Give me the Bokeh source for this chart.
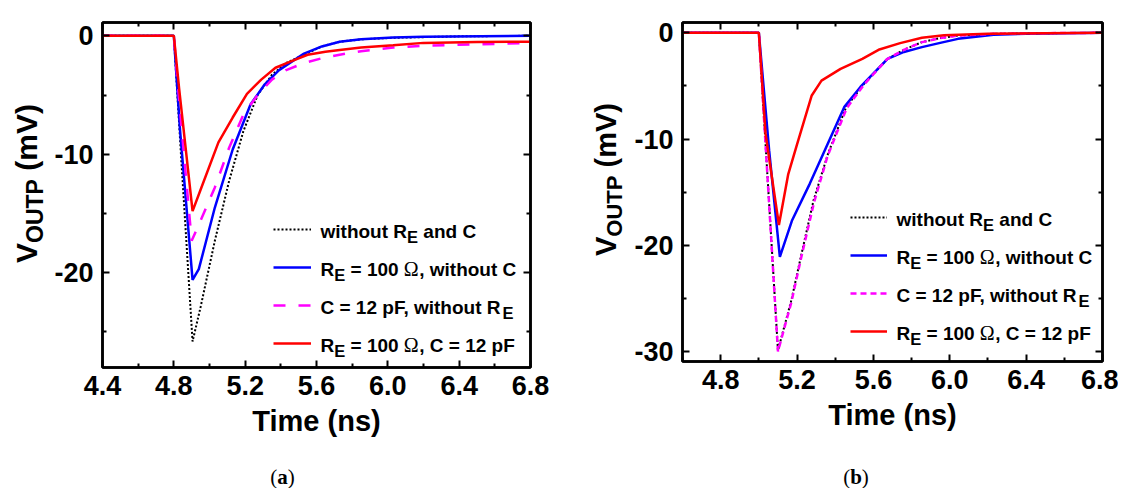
from bokeh.plotting import figure
from bokeh.layouts import row, column
from bokeh.models import (FixedTicker, PrintfTickFormatter, CustomJSTickFormatter,
                          LinearAxis, Label, Legend, LegendItem, Div)
from bokeh.embed import file_html
from bokeh.resources import INLINE

# ---------------- data, panel (a) ----------------
a_t_black = [4.40, 4.80, 4.84, 4.905, 4.95, 5.03, 5.11, 5.19, 5.27, 5.35, 5.43, 5.53, 5.63, 5.73, 5.85, 6.03, 6.40, 6.80]
a_v_black = [0, 0, -10.0, -25.8, -22.9, -17.3, -12.25, -8.05, -5.0, -3.3, -2.3, -1.6, -0.9, -0.5, -0.3, -0.17, -0.05, 0]

a_t_blue = [4.40, 4.80, 4.835, 4.905, 4.94, 5.03, 5.13, 5.23, 5.31, 5.39, 5.53, 5.63, 5.73, 5.85, 6.03, 6.20, 6.80]
a_v_blue = [0, 0, -8.0, -20.6, -19.7, -14.5, -9.6, -5.8, -4.1, -2.9, -1.5, -0.9, -0.5, -0.3, -0.15, -0.08, 0]

a_t_mag = [4.40, 4.80, 4.83, 4.90, 4.95, 5.03, 5.11, 5.19, 5.27, 5.35, 5.43, 5.53, 5.63, 5.73, 5.85, 6.03, 6.20, 6.50, 6.80]
a_v_mag = [0, 0, -5.5, -17.3, -15.6, -12.8, -9.45, -6.65, -5.0, -3.7, -2.9, -2.3, -1.9, -1.6, -1.3, -1.0, -0.85, -0.72, -0.62]

a_t_red = [4.40, 4.80, 4.83, 4.905, 4.95, 5.05, 5.13, 5.21, 5.29, 5.37, 5.45, 5.55, 5.65, 5.73, 5.85, 6.03, 6.20, 6.50, 6.80]
a_v_red = [0, 0, -4.5, -14.8, -13.0, -9.0, -6.9, -4.9, -3.7, -2.7, -2.2, -1.6, -1.35, -1.2, -1.0, -0.8, -0.6, -0.53, -0.5]

# ---------------- data, panel (b) ----------------
b_t_black = [4.60, 5.00, 5.10, 5.17, 5.22, 5.286, 5.362, 5.457, 5.551, 5.674, 5.76, 5.854, 5.95, 6.043, 6.23, 6.40, 6.80]
b_v_black = [0, 0, -29.9, -25.2, -21.1, -15.8, -11.4, -7.0, -4.8, -2.45, -1.6, -0.88, -0.5, -0.25, -0.1, -0.05, 0]

b_t_blue = [4.60, 5.00, 5.054, 5.11, 5.173, 5.267, 5.352, 5.447, 5.532, 5.674, 5.76, 5.854, 5.95, 6.043, 6.23, 6.40, 6.80]
b_v_blue = [0, 0, -11.1, -21.1, -17.7, -14.2, -10.8, -7.0, -5.1, -2.45, -1.8, -1.35, -0.95, -0.57, -0.19, -0.08, 0]

b_t_mag = [4.60, 5.00, 5.10, 5.17, 5.22, 5.29, 5.36, 5.46, 5.55, 5.67, 5.76, 5.85, 5.95, 6.04, 6.23, 6.40, 6.80]
b_v_mag = [0, 0, -30.0, -25.4, -21.3, -15.9, -11.6, -7.1, -4.9, -2.5, -1.6, -0.9, -0.5, -0.27, -0.1, -0.05, 0]

b_t_red = [4.60, 5.00, 5.035, 5.105, 5.154, 5.20, 5.277, 5.328, 5.428, 5.542, 5.627, 5.74, 5.854, 5.97, 6.20, 6.80]
b_v_red = [0, 0, -9.5, -18.1, -13.3, -10.5, -5.9, -4.5, -3.4, -2.45, -1.6, -0.97, -0.47, -0.22, -0.08, 0]

# ---------------- ticks ----------------
a_xticks = [4.4, 4.8, 5.2, 5.6, 6.0, 6.4, 6.8]
a_xminor = [4.6, 5.0, 5.4, 5.8, 6.2, 6.6]
a_yticks = [0, -10, -20]
a_yminor = [-5, -15, -25]
b_xticks = [4.8, 5.2, 5.6, 6.0, 6.4, 6.8]
b_xminor = [4.6, 5.0, 5.4, 5.8, 6.2, 6.6]
b_yticks = [0, -10, -20, -30]
b_yminor = [-5, -15, -25]

x_title = "Time (ns)"
y_title = ("V", "OUTP", " (mV)")
legend_rows = [
    [("without R", "m"), ("E", "s"), (" and C", "m")],
    [("R", "m"), ("E", "s"), (" = 100 ", "m"), ("\u03a9", "o"), (", without C", "m")],
    [("C = 12 pF, without R", "m"), ("E", "s")],
    [("R", "m"), ("E", "s"), (" = 100 ", "m"), ("\u03a9", "o"), (", C = 12 pF", "m")],
]
captions = ["a", "b"]

SANS = "Liberation Sans"
SERIF = "Liberation Serif"

W_SANS_B = {' ': 278, ',': 278, '=': 584, '(': 333, ')': 333, '-': 333, '.': 278,
            'C': 722, 'E': 667, 'F': 611, 'O': 778, 'P': 667, 'R': 722, 'T': 611, 'U': 722, 'V': 667,
            'a': 556, 'd': 611, 'h': 611, 'i': 278, 'm': 889, 'n': 611, 'o': 611, 'p': 611,
            's': 556, 't': 333, 'u': 611, 'w': 778}
for _d in "0123456789":
    W_SANS_B[_d] = 556
W_SERIF = {' ': 250, '(': 333, ')': 333, '\u03a9': 768}


def tw(s, table, size):
    return sum(table.get(c, 600) for c in s) * size / 1000.0


def add_label(p, x, y, text, font, style, size):
    p.add_layout(Label(x=x, y=y, x_units="screen", y_units="screen", text=text,
                       text_font=font, text_font_style=style, text_font_size=f"{size}px",
                       text_color="black", text_align="left", text_baseline="alphabetic"))


def place_h(p, runs, x_page, base_page, FL, FB):
    x = x_page
    for text, font, style, size, dy, table in runs:
        core = text.strip(" ")
        lead = len(text) - len(text.lstrip(" "))
        trail = len(text) - len(text.rstrip(" "))
        x += lead * table[' '] * size / 1000.0
        add_label(p, x - FL, FB - (base_page + dy), core, font, style, size)
        x += tw(core, table, size) + trail * table[' '] * size / 1000.0


def style_axis(ax, ticks, minor, labels, fmt, standoff):
    ax.ticker = FixedTicker(ticks=ticks, minor_ticks=minor)
    if labels:
        ax.formatter = PrintfTickFormatter(format=fmt)
        ax.major_label_text_font = SANS
        ax.major_label_text_font_style = "bold"
        ax.major_label_text_font_size = "27px"
        ax.major_label_text_color = "black"
        ax.major_label_standoff = standoff
    else:
        ax.formatter = CustomJSTickFormatter(code="return ''")
        ax.major_label_text_font_size = "1px"
        ax.major_label_standoff = 0
    ax.axis_line_color = "black"
    ax.axis_line_width = 2.5
    ax.major_tick_in = 7
    ax.major_tick_out = 0
    ax.major_tick_line_width = 2
    ax.major_tick_line_color = "black"
    ax.minor_tick_in = 4
    ax.minor_tick_out = 0
    ax.minor_tick_line_width = 2
    ax.minor_tick_line_color = "black"


def make_panel(series, xr, yr, xt, xm, yt, ym, geom, dashes, legend_geom):
    FL, FT, FW, FH, bl, br, bt, bb = geom
    FB = FT + FH
    p = figure(x_range=xr, y_range=yr, frame_width=FW, frame_height=FH,
               min_border_left=bl, min_border_right=br, min_border_top=bt, min_border_bottom=bb,
               output_backend="svg", toolbar_location=None)
    p.xgrid.visible = False
    p.ygrid.visible = False
    p.background_fill_color = "white"
    p.border_fill_color = "white"
    p.outline_line_color = "black"
    p.outline_line_width = 2.5

    xa = p.below[0]
    ya = p.left[0]
    style_axis(xa, xt, xm, True, "%.1f", 8)
    style_axis(ya, yt, ym, True, "%d", 9)
    xa.axis_label = x_title
    xa.axis_label_text_font = SANS
    xa.axis_label_text_font_style = "bold"
    xa.axis_label_text_font_size = "29px"
    xa.axis_label_text_color = "black"
    xa.axis_label_standoff = 7

    top = LinearAxis()
    style_axis(top, xt, xm, False, None, 0)
    right = LinearAxis()
    style_axis(right, yt, ym, False, None, 0)
    p.add_layout(top, "above")
    p.add_layout(right, "right")

    (tb, vb), (tu, vu), (tm, vm), (tr, vr) = series
    r_black = p.line(tb, vb, line_color="black", line_width=2, line_dash=dashes[0])
    r_blue = p.line(tu, vu, line_color="#0000ff", line_width=2.5)
    r_mag = p.line(tm, vm, line_color="#ff00ff", line_width=2.5, line_dash=dashes[1])
    r_red = p.line(tr, vr, line_color="#ff0000", line_width=2.5)

    lx_page, row0, pitch, gw, text_x = legend_geom
    last_bottom = row0 + 3 * pitch + 10
    leg = Legend(items=[LegendItem(label=" ", renderers=[r]) for r in (r_black, r_blue, r_mag, r_red)],
                 location=(lx_page - FL, FB - last_bottom), orientation="vertical",
                 glyph_width=gw, glyph_height=20, label_height=20, label_width=0,
                 spacing=pitch - 20, padding=0, margin=0, label_standoff=0,
                 border_line_alpha=0, background_fill_alpha=0, label_text_font_size="1px")
    p.add_layout(leg)

    main, sub, om = 19, 16.5, 20
    for i, rr in enumerate(legend_rows):
        runs = []
        for text, kind in rr:
            if kind == "m":
                runs.append((text, SANS, "bold", main, 0, W_SANS_B))
            elif kind == "s":
                runs.append((text, SANS, "bold", sub, 5.5, W_SANS_B))
            else:
                runs.append((text, SERIF, "normal", om, 0, W_SERIF))
        place_h(p, runs, text_x, row0 + i * pitch + 1.5, FL, FB)
    return p


def ylabel_div(width, height, left, top, fs, fsub, shift):
    v, sub, rest = y_title
    html = (f'<div style="position:relative;width:{width}px;height:{height}px;overflow:visible;">'
            f'<div style="position:absolute;left:{left}px;top:{top}px;transform-origin:0 0;'
            f'transform:rotate(-90deg);white-space:nowrap;font-family:\'{SANS}\';font-weight:bold;'
            f'font-size:{fs}px;line-height:{fs}px;color:#000;">'
            f'{v}<span style="font-size:{fsub}px;position:relative;top:{shift}px;">{sub}</span>{rest}'
            f'</div></div>')
    return Div(text=html, width=width, height=height, margin=0)


def caption_div(width, height, center, top, cap):
    html = (f'<div style="position:relative;width:{width}px;height:{height}px;overflow:visible;">'
            f'<div style="position:absolute;left:{center - 30}px;top:{top}px;width:60px;text-align:center;'
            f'font-family:\'{SERIF}\';font-size:21px;line-height:21px;color:#000;white-space:nowrap;">'
            f'(<b>{cap}</b>)</div></div>')
    return Div(text=html, width=width, height=height, margin=0)


# page coordinates (origin at the top-left corner of the window)
pa = make_panel(
    [(a_t_black, a_v_black), (a_t_blue, a_v_blue), (a_t_mag, a_v_mag), (a_t_red, a_v_red)],
    (4.4, 6.8), (-28.0, 1.12), a_xticks, a_xminor, a_yticks, a_yminor,
    geom=(102, 15, 428, 345, 52, 30, 15, 94),
    dashes=("2 2", "12 13"),
    legend_geom=(273, 222, 38, 38, 320))

pb = make_panel(
    [(b_t_black, b_v_black), (b_t_blue, b_v_blue), (b_t_mag, b_v_mag), (b_t_red, b_v_red)],
    (4.6, 6.8), (-30.95, 0.97), b_xticks, b_xminor, b_yticks, b_yminor,
    geom=(682, 22, 420, 339, 52, 16, 22, 93),
    dashes=("2 2", "6 4"),
    legend_geom=(850, 217, 38, 37, 896))

ya_div = ylabel_div(50, 454, 11.6, 263, 30, 23, 6)
yb_div = ylabel_div(70, 454, 31.5, 256, 29, 22, 6)
ca_div = caption_div(560, 34, 282.5, 13, captions[0])
cb_div = caption_div(558, 34, 296, 13, captions[1])

layout = column(row(ya_div, pa, yb_div, pb), row(ca_div, cb_div))
open("out.html", "w").write(file_html(layout, INLINE))
